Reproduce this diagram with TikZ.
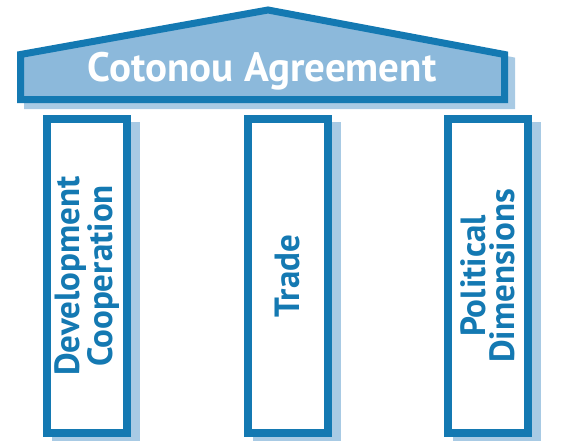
\documentclass[tikz,border=0pt]{standalone}
\usepackage{fontspec}
\setmainfont{PT Sans}
\usetikzlibrary{calc,backgrounds}
\definecolor{pillarblue}{RGB}{20,121,178}
\definecolor{roofblue}{RGB}{140,185,219}
\definecolor{shadeblue}{RGB}{168,202,228}
\tikzset{
  pillar/.style={draw=pillarblue, line width=8pt, fill=white, rotate=90,
    minimum width=314pt, minimum height=80pt, inner sep=0pt, align=center,
    font=\fontsize{35}{29}\selectfont\bfseries, text=pillarblue},
  rooftext/.style={anchor=base, inner sep=0pt, text=white,
    font=\fontsize{41}{46}\selectfont\bfseries},
  roofline/.style={line width=7pt, line join=miter}
}
\begin{document}
\begin{tikzpicture}[x=1pt,y=1pt]
\useasboundingbox (0,0) rectangle (569,440);
% roof and its shadow
\coordinate (lb) at (20.5,340.5);
\coordinate (le) at (20.5,385.5);
\coordinate (top) at (268,430);
\coordinate (re) at (504.5,385.5);
\coordinate (rb) at (504.5,340.5);
\filldraw[roofline, shadeblue] ($(lb)+(7,-6)$) -- ($(le)+(7,-6)$) -- ($(top)+(7,-6)$) -- ($(re)+(7,-6)$) -- ($(rb)+(7,-6)$) -- cycle;
\filldraw[roofline, draw=pillarblue, fill=roofblue] (lb) -- (le) -- (top) -- (re) -- (rb) -- cycle;
\node[rooftext] (roof) at (262,359) {Cotonou Agreement};
% pillars
\node[pillar] (dev) at (87,164) {Development\\Cooperation};
\node[pillar] (trade) at (287.5,164) {Trade};
\node[pillar] (pol) at (488,164) {Political\\Dimensions};
\begin{scope}[on background layer]
\foreach \p in {dev,trade,pol}
  \fill[shadeblue] ($(\p.south west)+(9,-7)$) rectangle ($(\p.north east)+(9,-7)$);
\end{scope}
\end{tikzpicture}
\end{document}
